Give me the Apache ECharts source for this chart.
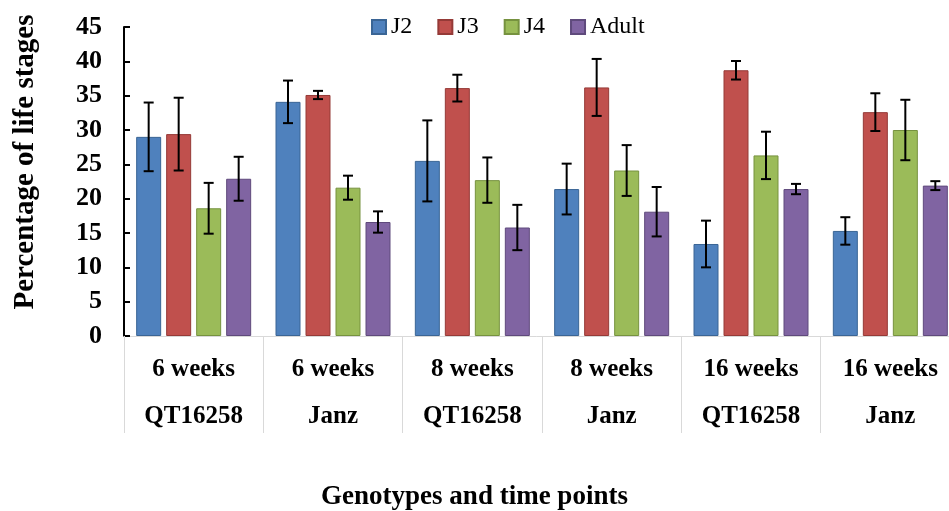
<!DOCTYPE html>
<html>
<head>
<meta charset="utf-8">
<script src="https://cdn.jsdelivr.net/npm/echarts@6/dist/echarts.min.js"></script>
<style>
html,body{margin:0;padding:0;background:#fff;}
#chart{width:949px;height:511px;}
</style>
</head>
<body>
<div id="chart"></div>
<script>
// ---- data ----
var weeks = ['6 weeks', '6 weeks', '8 weeks', '8 weeks', '16 weeks', '16 weeks'];
var genotypes = ['QT16258', 'Janz', 'QT16258', 'Janz', 'QT16258', 'Janz'];
var seriesNames = ['J2', 'J3', 'J4', 'Adult'];
var j2 = [29.0, 34.1, 25.5, 21.4, 13.4, 15.3];
var j2Err = [5.0, 3.1, 5.9, 3.7, 3.4, 2.0];
var j3 = [29.4, 35.1, 36.1, 36.2, 38.7, 32.6];
var j3Err = [5.3, 0.6, 1.95, 4.15, 1.35, 2.75];
var j4 = [18.6, 21.6, 22.7, 24.1, 26.3, 30.0];
var j4Err = [3.7, 1.75, 3.3, 3.7, 3.45, 4.4];
var adult = [22.9, 16.6, 15.8, 18.1, 21.4, 21.9];
var adultErr = [3.2, 1.55, 3.3, 3.6, 0.75, 0.65];
var yMin = 0, yMax = 45, yStep = 5;
var xTitle = 'Genotypes and time points';
var yTitle = 'Percentage of life stages';

// ---- styling ----
var FONT = '"Liberation Serif", "Times New Roman", serif';
var fills = ['#4F81BD', '#C0504D', '#9BBB59', '#8064A2'];
var borders = ['#3A6595', '#953A37', '#76923F', '#5F4A7C'];
var BAR_W = 25, GAP_PX = 5;

var values = [j2, j3, j4, adult];
var errs = [j2Err, j3Err, j4Err, adultErr];
var categories = weeks.map(function (w, i) { return w + '\n' + genotypes[i]; });

var series = [];
values.forEach(function (vals, s) {
  series.push({
    name: seriesNames[s],
    type: 'bar',
    data: vals,
    barWidth: BAR_W,
    barGap: (GAP_PX / BAR_W * 100) + '%',
    itemStyle: { color: fills[s], borderColor: borders[s], borderWidth: 1 },
    z: 2
  });
});
values.forEach(function (vals, s) {
  var offset = (s - 1.5) * (BAR_W + GAP_PX);
  series.push({
    name: seriesNames[s] + ' err',
    type: 'custom',
    z: 5,
    silent: true,
    data: vals.map(function (v, i) { return [i, v - errs[s][i], v + errs[s][i]]; }),
    renderItem: function (params, api) {
      var ci = api.value(0);
      var lo = api.coord([ci, api.value(1)]);
      var hi = api.coord([ci, api.value(2)]);
      var x = lo[0] + offset;
      var cap = 5;
      var st = { stroke: '#000', lineWidth: 2 };
      return {
        type: 'group',
        children: [
          { type: 'line', shape: { x1: x, y1: lo[1], x2: x, y2: hi[1] }, style: st },
          { type: 'line', shape: { x1: x - cap, y1: lo[1], x2: x + cap, y2: lo[1] }, style: st },
          { type: 'line', shape: { x1: x - cap, y1: hi[1], x2: x + cap, y2: hi[1] }, style: st }
        ]
      };
    }
  });
});

var chart = echarts.init(document.getElementById('chart'), null, { renderer: 'canvas' });
chart.setOption({
  animation: false,
  backgroundColor: '#fff',
  title: {
    text: xTitle,
    left: 'center',
    top: 479,
    textStyle: { fontFamily: FONT, fontWeight: 'bold', fontSize: 27, color: '#000' }
  },
  legend: {
    data: seriesNames,
    left: 366,
    top: 10,
    itemWidth: 14,
    itemHeight: 14,
    itemGap: 25,
    icon: 'rect',
    textStyle: { fontFamily: FONT, fontSize: 24, color: '#000' }
  },
  grid: { left: 124, width: 836, top: 27, height: 309, containLabel: false, outerBoundsMode: 'none' },
  xAxis: {
    type: 'category',
    data: categories,
    boundaryGap: true,
    axisLine: { show: true, lineStyle: { color: '#d9d9d9', width: 1 } },
    axisTick: { show: true, interval: 0, length: 97, lineStyle: { color: '#d9d9d9', width: 1 } },
    axisLabel: {
      interval: 0,
      margin: 10,
      fontFamily: FONT,
      fontWeight: 'bold',
      fontSize: 25,
      lineHeight: 47,
      color: '#000'
    },
    splitLine: { show: false }
  },
  yAxis: {
    type: 'value',
    min: yMin,
    max: yMax,
    interval: yStep,
    axisLine: { show: true, lineStyle: { color: '#000', width: 2 } },
    axisTick: { show: true, inside: true, length: 6, lineStyle: { color: '#000', width: 2 } },
    axisLabel: { margin: 22, fontFamily: FONT, fontWeight: 'bold', fontSize: 26, color: '#000' },
    splitLine: { show: false }
  },
  graphic: [{
    type: 'text',
    x: 26,
    y: 162,
    rotation: Math.PI / 2,
    style: {
      text: yTitle,
      fontFamily: FONT,
      fontWeight: 'bold',
      fontSize: 29,
      fill: '#000',
      textAlign: 'center',
      textVerticalAlign: 'middle'
    }
  }],
  series: series
});
</script>
</body>
</html>
